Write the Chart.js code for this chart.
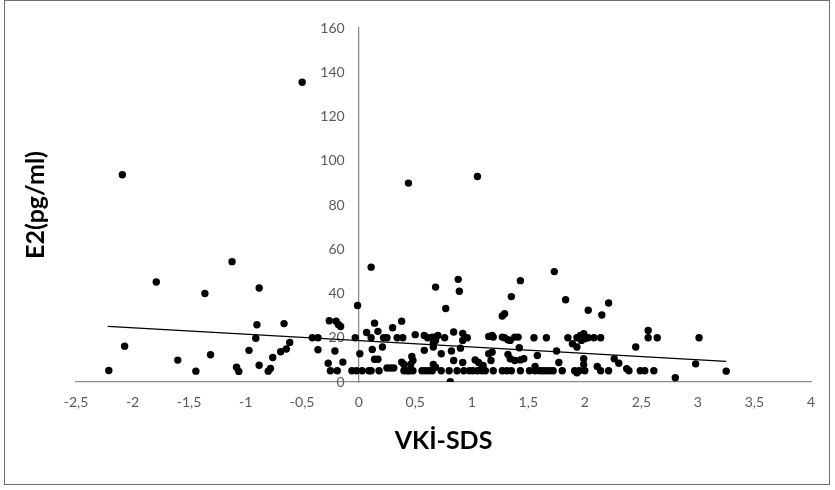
<!DOCTYPE html>
<html>
<head>
<meta charset="utf-8">
<script src="https://cdn.jsdelivr.net/npm/chart.js@4/dist/chart.umd.min.js"></script>
<style>
  html, body { margin: 0; padding: 0; background: #fff; }
  #c { display: block; }
</style>
</head>
<body>
<canvas id="c" width="835" height="490"></canvas>
<script>
// ---- data ----
const xTitle = 'VKİ-SDS';
const yTitle = 'E2(pg/ml)';
const xTickLabels = ['-2,5','-2','-1,5','-1','-0,5','0','0,5','1','1,5','2','2,5','3','3,5','4'];
const yTickLabels = ['0','20','40','60','80','100','120','140','160'];

const vkiSds = [
  -2.21,-2.09,-2.07,-1.79,-1.60,-1.44,-1.36,-1.31,-1.12,-1.08,-1.06,-0.97,-0.91,-0.90,-0.88,-0.88,-0.80,-0.78,-0.76,-0.69,
  -0.66,-0.64,-0.61,-0.50,-0.41,-0.36,-0.36,-0.27,-0.26,-0.25,-0.21,-0.20,-0.19,-0.18,-0.16,-0.14,-0.06,-0.03,-0.02,-0.01,
  0.01,0.03,0.07,0.09,0.11,0.11,0.11,0.12,0.14,0.14,0.17,0.17,0.18,0.21,0.22,0.25,0.25,0.28,0.30,0.31,
  0.34,0.38,0.38,0.39,0.40,0.40,0.43,0.44,0.45,0.46,0.47,0.48,0.48,0.50,
  0.56,0.58,0.58,0.59,0.61,0.62,0.65,0.65,0.66,0.66,0.66,0.68,0.68,0.68,0.68,0.70,0.73,0.73,0.76,0.77,
  0.80,0.81,0.82,0.84,0.84,0.87,0.88,0.89,0.90,0.92,0.92,0.92,0.93,0.96,0.98,
  1.01,1.03,1.05,1.05,1.06,1.09,1.09,1.10,1.12,1.15,1.15,1.17,1.18,1.18,1.19,1.19,1.27,1.27,1.27,1.29,
  1.29,1.31,1.32,1.32,1.34,1.34,1.35,1.35,1.38,1.38,1.41,1.42,1.43,1.43,1.43,1.46,
  1.51,1.55,1.56,1.56,1.58,1.60,1.63,1.66,1.66,1.69,1.72,1.73,1.75,1.77,1.80,1.83,1.85,1.89,1.91,1.93,
  1.93,1.93,1.95,1.96,1.97,1.99,1.99,1.99,2.00,2.00,
  2.03,2.03,2.08,2.11,2.14,2.14,2.15,2.21,2.21,2.26,2.30,2.37,2.39,2.45,2.49,2.53,2.56,2.56,2.61,2.64,
  2.80,2.98,3.01,3.25
];
const e2 = [
  5.2,93.7,16.2,45.2,9.9,4.9,40.0,12.3,54.4,6.7,4.8,14.3,19.8,25.9,42.5,7.6,4.9,6.1,11.1,13.7,
  26.4,14.9,17.9,135.5,20.0,20.0,14.6,8.5,27.7,5.1,14.0,27.5,5.1,26.0,25.1,9.0,5.1,20.0,5.1,34.6,
  12.8,5.1,22.4,5.1,51.9,20.0,5.1,14.7,26.6,10.3,22.9,10.3,5.1,15.8,20.0,20.0,6.3,6.3,24.5,6.3,
  20.0,27.5,9.0,20.0,7.9,5.1,5.1,89.9,5.1,7.9,11.5,9.7,5.1,21.4,
  5.1,14.3,21.0,5.1,20.0,5.1,20.3,5.1,17.6,15.8,7.9,18.8,42.9,6.7,20.3,21.0,12.8,5.1,20.0,33.2,
  5.1,0.1,14.0,22.6,9.7,5.1,46.4,41.0,15.3,22.0,18.8,8.8,5.1,20.0,5.1,
  5.1,10.0,92.9,5.1,8.8,6.7,5.1,7.5,5.1,20.6,12.8,9.7,21.0,13.5,20.3,5.1,20.3,29.8,5.1,30.9,
  20.0,5.1,19.1,12.5,18.8,10.5,5.1,38.6,20.3,9.7,20.3,15.5,45.8,10.0,5.1,10.5,
  5.1,20.0,7.0,5.1,12.0,5.1,5.1,20.0,5.1,5.1,5.1,49.9,14.0,8.8,5.1,37.2,20.0,17.3,5.1,20.0,
  15.8,4.2,5.1,21.0,18.8,21.8,10.5,7.9,19.6,5.1,
  32.4,20.0,20.0,7.0,20.0,5.1,30.3,35.7,5.1,10.5,8.5,6.0,5.1,15.8,5.1,5.1,23.3,20.0,5.1,20.0,
  1.9,8.2,20.0,4.9
];
// linear trendline end points as drawn in the reference
const trendX = [-2.22, 3.25];
const trendY = [25.1, 9.3];

// ---- build ----
const points = vkiSds.map((v, i) => ({ x: v, y: e2[i] }));
const trend = trendX.map((v, i) => ({ x: v, y: trendY[i] }));

const FONT = 'Lato, "Open Sans", "Liberation Sans", sans-serif';
const AXIS_COLOR = '#8c8c8c';
const TICK_COLOR = '#595959';

const decor = {
  id: 'decor',
  beforeDraw(chart) {
    const ys = chart.scales.y;
    const items = ys.getLabelItems(chart.chartArea);
    if (items && !items._shifted) {
      items.forEach(it => { it.options.translation[0] -= 14; });
      items._shifted = true;
    }
  },
  afterDraw(chart) {
    const ctx = chart.ctx;
    const a = chart.chartArea;
    ctx.save();
    ctx.strokeStyle = '#6e6e6e';
    ctx.lineWidth = 1;
    ctx.strokeRect(4.5, 0.5, 825, 484);
    ctx.fillStyle = '#000';
    ctx.font = 'bold 25px ' + FONT;
    ctx.textAlign = 'center';
    ctx.textBaseline = 'middle';
    ctx.fillText(xTitle, (a.left + a.right) / 2, 441);
    ctx.translate(36, (a.top + a.bottom) / 2);
    ctx.rotate(-Math.PI / 2);
    ctx.fillText(yTitle, 0, 0);
    ctx.restore();
  }
};

new Chart(document.getElementById('c'), {
  type: 'scatter',
  data: {
    datasets: [
      {
        type: 'scatter',
        data: points,
        backgroundColor: '#000',
        borderColor: '#000',
        pointRadius: 3.7,
        pointHoverRadius: 3.7,
        borderWidth: 0
      },
      {
        type: 'line',
        data: trend,
        borderColor: '#000',
        borderWidth: 1.3,
        pointRadius: 0,
        fill: false,
        tension: 0
      }
    ]
  },
  options: {
    responsive: false,
    animation: false,
    events: [],
    layout: { padding: { left: 76, right: 24, top: 28, bottom: 108 } },
    plugins: { legend: { display: false }, tooltip: { enabled: false } },
    scales: {
      x: {
        type: 'linear',
        min: -2.5,
        max: 4,
        position: { y: 0 },
        afterFit(s) { s.height = 0; },
        grid: { display: true, drawOnChartArea: false, drawTicks: false, color: 'rgba(0,0,0,0)' },
        border: { display: true, color: AXIS_COLOR, width: 1.3 },
        ticks: {
          stepSize: 0.5,
          autoSkip: false,
          maxRotation: 0,
          padding: 12,
          color: TICK_COLOR,
          font: { family: FONT, size: 14 },
          callback: (v) => {
            const i = Math.round((v + 2.5) / 0.5);
            return xTickLabels[i];
          }
        }
      },
      y: {
        type: 'linear',
        min: 0,
        max: 160,
        position: { x: 0 },
        afterFit(s) { s.width = 0; },
        grid: { display: true, drawOnChartArea: false, drawTicks: false, color: 'rgba(0,0,0,0)' },
        border: { display: true, color: AXIS_COLOR, width: 1.3 },
        ticks: {
          stepSize: 20,
          autoSkip: false,
          padding: 0,
          color: TICK_COLOR,
          font: { family: FONT, size: 14 },
          callback: (v) => yTickLabels[Math.round(v / 20)]
        }
      }
    }
  },
  plugins: [decor]
});
</script>
</body>
</html>
